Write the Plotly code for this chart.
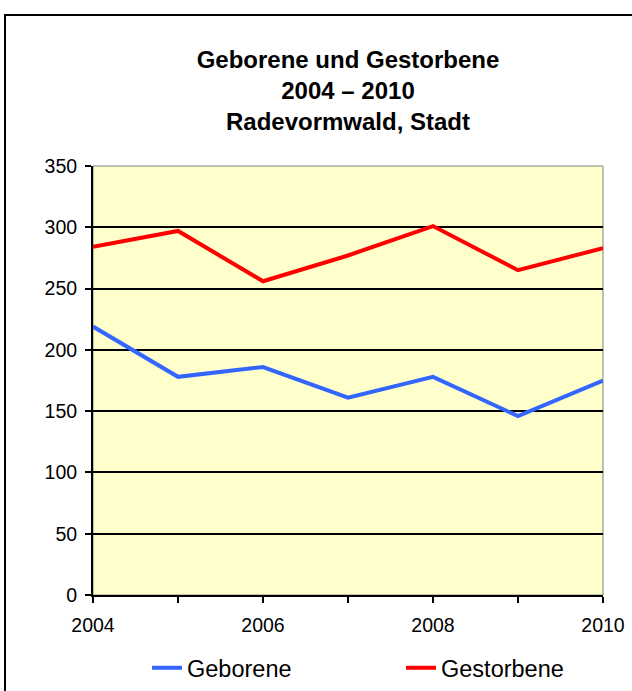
import plotly.graph_objects as go

years = [2004, 2005, 2006, 2007, 2008, 2009, 2010]
geborene = [219, 178, 186, 161, 178, 146, 175]
gestorbene = [284, 297, 256, 277, 301, 265, 283]
x_tick_vals = [2004, 2006, 2008, 2010]
y_tick_vals = [0, 50, 100, 150, 200, 250, 300, 350]

W, H = 632, 691
L, R, T, B = 93, 29, 166, 96
pw = W - L - R
ph = H - T - B
FONT = "Liberation Sans, Arial, sans-serif"

fig = go.Figure()
fig.add_trace(go.Scatter(x=years, y=geborene, mode="lines", name="Geborene",
                         line=dict(color="#3366FF", width=4), cliponaxis=False))
fig.add_trace(go.Scatter(x=years, y=gestorbene, mode="lines", name="Gestorbene",
                         line=dict(color="#FF0000", width=4), cliponaxis=False))

fig.update_layout(
    width=W, height=H, autosize=False,
    margin=dict(l=L, r=R, t=T, b=B, autoexpand=False),
    paper_bgcolor="white",
    plot_bgcolor="#FFFFCC",
    font=dict(family=FONT, size=19, color="black"),
    title=dict(
        text="<b>Geborene und Gestorbene<br>2004 – 2010<br>Radevormwald, Stadt</b>",
        x=0.5, xanchor="center", xref="paper",
        y=1 - 68 / H, yanchor="top",
        font=dict(size=24, family=FONT),
    ),
    showlegend=True,
    legend=dict(orientation="h", x=(401 - L) / pw, xanchor="center", y=-(668 - 595) / ph,
                yanchor="middle", font=dict(size=23.5), itemwidth=30,
                bgcolor="rgba(0,0,0,0)", entrywidth=209),
)

fig.update_xaxes(
    range=[2004, 2010], tickvals=x_tick_vals, ticktext=[str(v) for v in x_tick_vals],
    showgrid=False, zeroline=False,
    showline=True, linecolor="black", linewidth=2,
    ticks="outside", ticklen=6, tickwidth=2, tickcolor="black",
    minor=dict(dtick=1, tick0=2004, ticks="outside", ticklen=6, tickwidth=2,
               tickcolor="black", showgrid=False),
    tickfont=dict(size=19.5), ticklabelstandoff=6, fixedrange=True, automargin=False,
)
fig.update_yaxes(
    range=[0, 350], tickvals=y_tick_vals,
    showgrid=True, gridcolor="black", gridwidth=2,
    zeroline=False,
    showline=True, linecolor="black", linewidth=2,
    ticks="outside", ticklen=6, tickwidth=2, tickcolor="black",
    tickfont=dict(size=19.5), ticklabelstandoff=4, fixedrange=True, automargin=False,
)

# plot area right border (thin grey) and outer chart frame
fig.add_shape(type="rect", xref="paper", yref="paper", x0=0, x1=1, y0=0, y1=1,
              line=dict(color="#808080", width=1), layer="below")
fig.add_shape(type="rect", xref="paper", yref="paper",
              x0=(5 - L) / pw, x1=(645 - L) / pw,
              y0=-(H + 10 - (H - B)) / ph, y1=1 + (T - 15) / ph,
              line=dict(color="black", width=2))

fig.write_html(
    "out.html",
    config={"responsive": False, "displayModeBar": False},
    post_script="document.body.style.margin='0';document.body.style.overflow='hidden';",
)
